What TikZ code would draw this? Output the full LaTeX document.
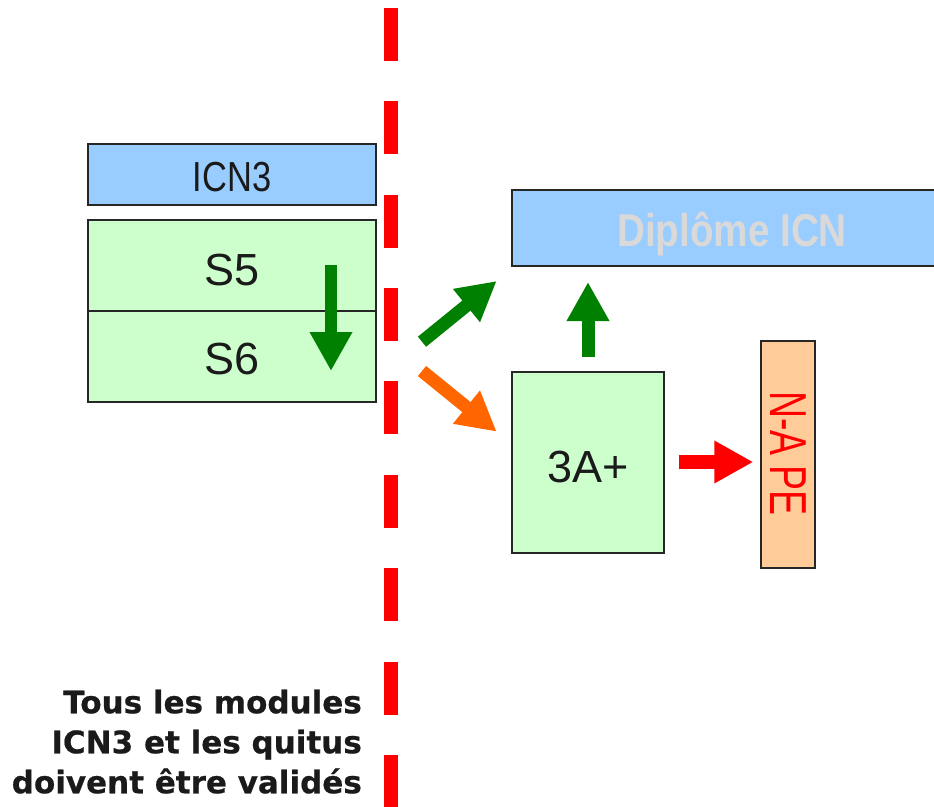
\documentclass[tikz,border=0pt]{standalone}
\usepackage{fontspec}
\usepackage{graphicx}
\setmainfont{Liberation Sans}
\newfontfamily\notefont{DejaVu Sans Bold}[FakeBold=0.6]
\usetikzlibrary{arrows.meta}
\definecolor{boxblue}{HTML}{99CCFF}
\definecolor{boxgreen}{HTML}{CCFFCC}
\definecolor{boxorange}{HTML}{FFCC99}
\definecolor{arrgreen}{HTML}{008000}
\definecolor{arrorange}{HTML}{FF6600}
\definecolor{txtdark}{HTML}{1A1A1A}
\definecolor{txtlight}{HTML}{D9D9D9}
\definecolor{bordergray}{HTML}{262626}
\tikzset{
  box/.style={draw=bordergray, line width=2pt, inner sep=0pt, outer sep=0pt},
  captext/.style={inner sep=0pt, text depth=0pt, text=txtdark},
  bigtext/.style={font=\fontsize{45}{54}\selectfont, text height=32.2pt},
  bigarrow/.style={line width=13pt, -{Triangle[length=39pt,width=40pt]}},
}
\begin{document}
\begin{tikzpicture}[x=1pt,y=-1pt]
\useasboundingbox (0,0) rectangle (934,806);
\clip (0,0) rectangle (934,806);
\fill[white] (0,0) rectangle (934,806);

% dashed separator
\coordinate (sepTop) at (391,7.7);
\coordinate (sepBot) at (391,840);
\draw[red, line width=13.4pt, dash pattern=on 53pt off 40.4pt] (sepTop) -- (sepBot);

% boxes
\node[box, fill=boxblue, minimum width=288pt, minimum height=61pt] (icn3) at (232,174.5) {};
\node[box, fill=boxgreen, minimum width=288pt, minimum height=91pt] (s5) at (232,265.5) {};
\node[box, fill=boxgreen, minimum width=288pt, minimum height=91pt] (s6) at (232,356.5) {};
\node[box, fill=boxblue, minimum width=440pt, minimum height=76pt] (dip) at (732,228) {};
\node[box, fill=boxgreen, minimum width=152pt, minimum height=181pt] (a3) at (588,462.5) {};
\node[box, fill=boxorange, minimum width=54pt, minimum height=227pt] (nape) at (788,454.5) {};

% texts
\node[captext, font=\fontsize{42}{50}\selectfont, text height=30.1pt] (icn3t) at ([yshift=-2pt]icn3.center) {\scalebox{0.82}[1]{ICN3}};
\node[captext, bigtext] (s5t) at ([yshift=-3.5pt]s5.center) {S5};
\node[captext, bigtext] (s6t) at ([yshift=-1.5pt]s6.center) {S6};
\node[captext, text=txtlight, font=\fontsize{46}{54}\selectfont\bfseries, text height=33pt] (dipt) at ([yshift=-1.5pt]dip.center) {\scalebox{0.84}[1]{Diplôme ICN}};
\node[captext, bigtext] (a3t) at ([yshift=-3.5pt]a3.center) {3A+};
\node[text=red, rotate=-90, inner sep=0pt] (napet) at ([yshift=1pt]nape.center)
  {\fontsize{52}{60}\selectfont\scalebox{0.72}[1]{N-A PE}};

% arrows
\coordinate (dA) at (331,265);
\coordinate (dB) at (331,371);
\draw[bigarrow, arrgreen, line width=12.5pt] (dA) -- (dB);

\coordinate (gA) at (422,341.7);
\coordinate (gB) at (496.7,281);
\draw[bigarrow, arrgreen] (gA) -- (gB);

\coordinate (oA) at (422,371);
\coordinate (oB) at (496.7,431.7);
\draw[bigarrow, arrorange] (oA) -- (oB);

\coordinate (uA) at (588,357);
\coordinate (uB) at (588,282);
\draw[bigarrow, arrgreen] (uA) -- (uB);

\coordinate (rA) at (679,462);
\coordinate (rB) at (753.3,462);
\draw[bigarrow, red, line width=14pt] (rA) -- (rB);

% note
\node[anchor=north east, align=right, inner sep=0pt, text=txtdark,
      font=\notefont\fontsize{31}{40}\selectfont] (note) at (362,689.5)
  {Tous les modules\\ICN3 et les quitus\\doivent être validés};
\end{tikzpicture}
\end{document}
